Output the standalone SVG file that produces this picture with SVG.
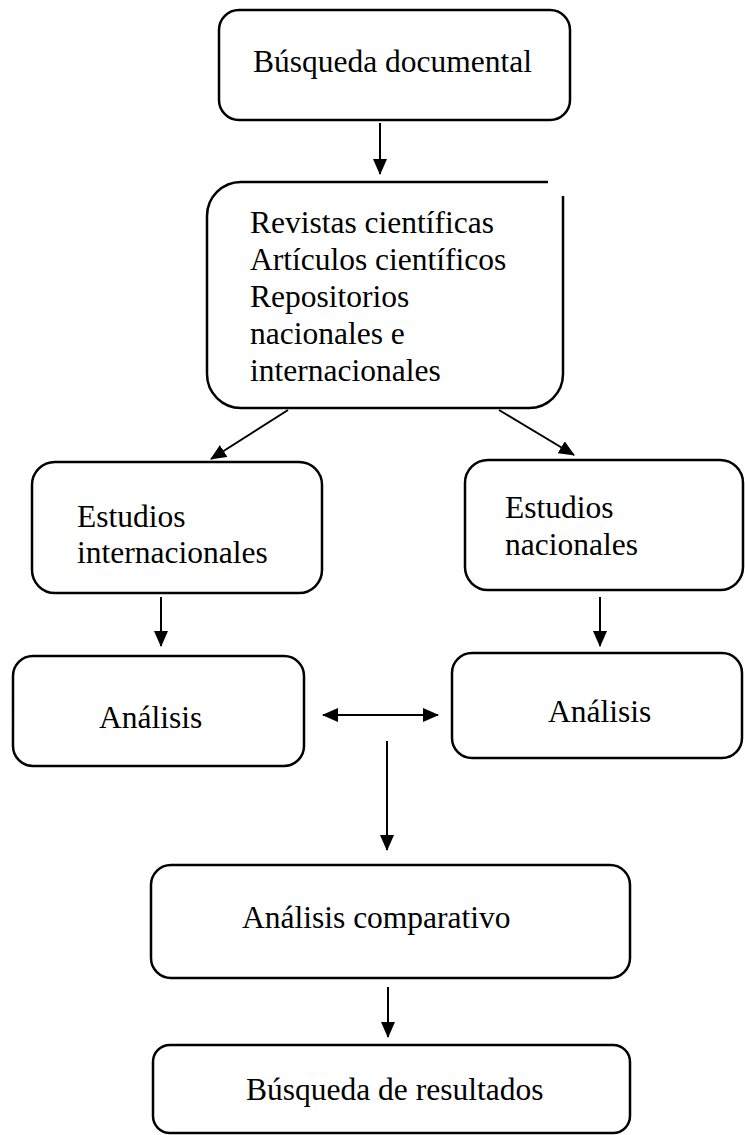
<svg xmlns="http://www.w3.org/2000/svg" width="745" height="1135" viewBox="0 0 745 1135">
<style>
.box{fill:#fff;stroke:#000;stroke-width:2.5}
.t{font-family:"Liberation Serif","Times New Roman",serif;font-size:31.5px;fill:#000}
.c{stroke:#000;stroke-width:2;fill:none}
</style>
<defs>
<marker id="ah" markerUnits="userSpaceOnUse" markerWidth="16" markerHeight="14" refX="15" refY="7" orient="auto-start-reverse" viewBox="0 0 16 14">
<path d="M0,0 L16,7 L0,14 z" fill="#000"/>
</marker>
</defs>
<rect width="745" height="1135" fill="#fff"/>
<g id="connectors">
<line class="c" x1="380" y1="123" x2="380" y2="174" marker-end="url(#ah)"/>
<line class="c" x1="288" y1="410" x2="211" y2="459" marker-end="url(#ah)"/>
<line class="c" x1="499" y1="410" x2="574" y2="455" marker-end="url(#ah)"/>
<line class="c" x1="161" y1="597" x2="161" y2="646" marker-end="url(#ah)"/>
<line class="c" x1="600" y1="597" x2="600" y2="646" marker-end="url(#ah)"/>
<line class="c" x1="323" y1="715" x2="438" y2="715" marker-start="url(#ah)" marker-end="url(#ah)"/>
<line class="c" x1="387" y1="741" x2="387" y2="850" marker-end="url(#ah)"/>
<line class="c" x1="388" y1="987" x2="388" y2="1037" marker-end="url(#ah)"/>
</g>
<g id="n1">
<rect class="box" x="219" y="10" width="351" height="110" rx="20"/>
<text class="t" x="253" y="72">Búsqueda documental</text>
</g>
<g id="n2">
<path class="box" d="M563,196 L563,374 A34,34 0 0 1 529,408 L241,408 A34,34 0 0 1 207,374 L207,216 A34,34 0 0 1 241,182 L548,182"/>
<text class="t" x="250" y="233">Revistas científicas</text>
<text class="t" x="250" y="270">Artículos científicos</text>
<text class="t" x="250" y="307">Repositorios</text>
<text class="t" x="250" y="344">nacionales e</text>
<text class="t" x="250" y="381">internacionales</text>
</g>
<g id="n3">
<rect class="box" x="32" y="462" width="290" height="131" rx="23"/>
<text class="t" x="77" y="527">Estudios</text>
<text class="t" x="77" y="563">internacionales</text>
</g>
<g id="n4">
<rect class="box" x="465" y="460" width="278" height="130" rx="23"/>
<text class="t" x="505" y="518">Estudios</text>
<text class="t" x="505" y="555">nacionales</text>
</g>
<g id="n5">
<rect class="box" x="13" y="656" width="291" height="110" rx="20"/>
<text class="t" x="99" y="728">Análisis</text>
</g>
<g id="n6">
<rect class="box" x="452" y="653" width="290" height="105" rx="20"/>
<text class="t" x="548" y="722">Análisis</text>
</g>
<g id="n7">
<rect class="box" x="151" y="865" width="479" height="113" rx="20"/>
<text class="t" x="242" y="928">Análisis comparativo</text>
</g>
<g id="n8">
<rect class="box" x="153" y="1045" width="477" height="88" rx="17"/>
<text class="t" x="246" y="1100">Búsqueda de resultados</text>
</g>
</svg>
